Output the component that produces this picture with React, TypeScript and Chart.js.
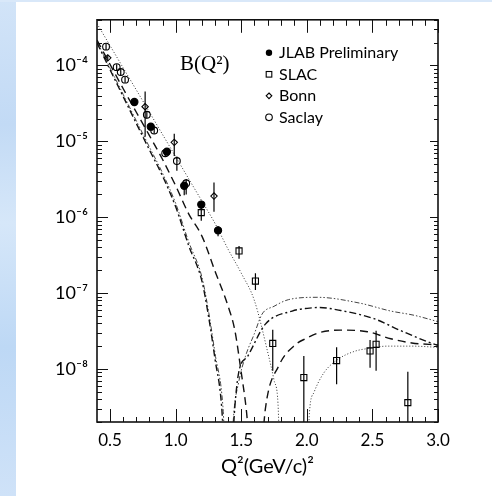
import { useEffect, useRef } from 'react';
import { Chart, registerables } from 'chart.js';

Chart.register(...registerables);

// Axis ticks
const xTickValues = [0.5, 1.0, 1.5, 2.0, 2.5, 3.0];
const yTickValues = [1e-8, 1e-7, 1e-6, 1e-5, 1e-4];
const yTickLabels = ['10⁻⁸', '10⁻⁷', '10⁻⁶', '10⁻⁵', '10⁻⁴'];

// JLAB preliminary
const jlabQ2 = [0.685, 0.81, 0.933, 1.065, 1.195, 1.323];
const jlabB = [3.3e-5, 1.56e-5, 7.3e-6, 2.6e-6, 1.47e-6, 6.7e-7];
const jlabLow = [3.05e-5, 1.44e-5, 6.6e-6, 1.95e-6, 1.3e-6, 5.6e-7];
const jlabHigh = [3.55e-5, 1.68e-5, 8.0e-6, 2.9e-6, 1.65e-6, 7.6e-7];

// SLAC
const slacQ2 = [1.195, 1.483, 1.608, 1.74, 1.977, 2.227, 2.482, 2.528, 2.77];
const slacB = [1.15e-6, 3.6e-7, 1.44e-7, 2.17e-8, 7.7e-9, 1.29e-8, 1.73e-8, 2.11e-8, 3.6e-9];
const slacLow = [9.0e-7, 2.83e-7, 1.1e-7, 9.5e-9, 1e-9, 6.3e-9, 1.04e-8, 9.5e-9, 1e-9];
const slacHigh = [1.41e-6, 4.19e-7, 1.83e-7, 3.3e-8, 1.48e-8, 1.93e-8, 2.4e-8, 3.2e-8, 9.2e-9];

// Bonn
const bonnQ2 = [0.482, 0.767, 0.989, 1.292];
const bonnB = [1.26e-4, 2.86e-5, 9.7e-6, 1.9e-6];
const bonnLow = [1.16e-4, 1.15e-5, 6.4e-6, 1.18e-6];
const bonnHigh = [1.37e-4, 4.54e-5, 1.26e-5, 2.87e-6];

// Saclay
const saclayQ2 = [0.469, 0.55, 0.581, 0.614, 0.78, 0.836, 0.92, 1.009, 1.08];
const saclayB = [1.77e-4, 9.5e-5, 8.2e-5, 6.5e-5, 2.24e-5, 1.39e-5, 6.97e-6, 5.5e-6, 2.8e-6];
const saclayLow = [1.6e-4, 8.7e-5, 7.5e-5, 5.9e-5, 2.0e-5, 1.27e-5, 6.3e-6, 4.1e-6, 2.0e-6];
const saclayHigh = [1.95e-4, 1.04e-4, 9.0e-5, 7.1e-5, 2.5e-5, 1.52e-5, 7.7e-6, 6.3e-6, 3.2e-6];

// Model curves (values below the axis mark the diffraction minimum)
const dottedQ2 = [0.4, 0.5, 0.6, 0.7, 0.8, 0.9, 1.0, 1.1, 1.2, 1.3, 1.4, 1.5, 1.6, 1.7, 1.75, 1.78, 1.81, 1.99, 2.02, 2.054, 2.13, 2.232, 2.36, 2.474, 2.615, 2.8, 3.0];
const dottedB = [3.57e-4, 1.82e-4, 9.27e-5, 4.75e-5, 2.42e-5, 1.23e-5, 6.27e-6, 3.19e-6, 1.63e-6, 8.28e-7, 3.77e-7, 1.83e-7, 7.98e-8, 1.71e-8, 7.1e-9, 3.5e-9, 1e-10, 1e-10, 2.7e-9, 4.9e-9, 8.9e-9, 1.32e-8, 1.7e-8, 1.87e-8, 2.0e-8, 2.0e-8, 1.93e-8];

const dashedQ2 = [0.4, 0.5, 0.6, 0.7, 0.8, 0.9, 1.0, 1.1, 1.2, 1.3, 1.4, 1.45, 1.5, 1.54, 1.61, 1.684, 1.786, 1.914, 2.0, 2.092, 2.258, 2.462, 2.64, 2.8, 3.0];
const dashedB = [2.16e-4, 1.03e-4, 4.93e-5, 2.42e-5, 1.19e-5, 5.77e-6, 2.59e-6, 1.1e-6, 5.64e-7, 1.94e-7, 6.69e-8, 3.29e-8, 8.93e-9, 2.73e-9, 1e-10, 3.0e-9, 1.1e-8, 2.1e-8, 2.55e-8, 3.0e-8, 3.25e-8, 3.1e-8, 2.5e-8, 2.2e-8, 2.08e-8];

const dashDotQ2 = [0.4, 0.5, 0.6, 0.7, 0.8, 0.9, 1.0, 1.1, 1.2, 1.25, 1.3, 1.35, 1.4, 1.45, 1.48, 1.55, 1.684, 1.888, 2.003, 2.092, 2.258, 2.512, 2.716, 2.946, 3.0];
const dashDotB = [1.98e-4, 8.75e-5, 3.88e-5, 1.72e-5, 7.7e-6, 3.48e-6, 1.37e-6, 4.19e-7, 1.44e-7, 5.0e-8, 1.35e-8, 3.26e-9, 1e-10, 3.0e-9, 8.9e-9, 1.48e-8, 3.9e-8, 5.8e-8, 6.3e-8, 6.45e-8, 5.9e-8, 4.6e-8, 3.2e-8, 2.2e-8, 2.05e-8];

const dashDotDotQ2 = [0.4, 0.5, 0.6, 0.7, 0.8, 0.9, 1.0, 1.1, 1.2, 1.25, 1.3, 1.36, 1.405, 1.44, 1.48, 1.532, 1.6, 1.659, 1.75, 1.86, 2.08, 2.4, 2.64, 2.818, 3.0];
const dashDotDotB = [2.05e-4, 9.2e-5, 4.15e-5, 1.86e-5, 8.4e-6, 3.8e-6, 1.52e-6, 4.7e-7, 1.62e-7, 5.8e-8, 1.6e-8, 3.2e-9, 1e-10, 2.2e-9, 6.65e-9, 1.47e-8, 2.92e-8, 5.3e-8, 6.7e-8, 8.2e-8, 8.8e-8, 7.4e-8, 5.8e-8, 5.1e-8, 4.2e-8];

const legendLabels = ['JLAB Preliminary', 'SLAC', 'Bonn', 'Saclay'];

const pts = (xs: number[], ys: number[]) => xs.map((x, i) => ({ x, y: ys[i] }));

const markerSet = (label: string, xs: number[], ys: number[], lo: number[], hi: number[], style: string, radius: number, filled: boolean) => ({
  label,
  data: pts(xs, ys),
  errLow: lo,
  errHigh: hi,
  showLine: false,
  pointStyle: style,
  pointRadius: radius,
  pointBorderWidth: 1.1,
  pointBorderColor: '#000',
  pointBackgroundColor: filled ? '#000' : 'rgba(255,255,255,0)',
  order: 0,
});

const curveSet = (label: string, xs: number[], ys: number[], color: string, width: number, dash: number[]) => ({
  label,
  data: pts(xs, ys),
  showLine: true,
  pointRadius: 0,
  borderColor: color,
  borderWidth: width,
  borderDash: dash,
  cubicInterpolationMode: 'monotone',
  order: 1,
});

// Vertical error bars drawn from each marker dataset's errLow / errHigh
const errorBars = {
  id: 'errorBars',
  afterDatasetsDraw(chart: any) {
    const { ctx, chartArea: a, scales } = chart;
    ctx.save();
    ctx.beginPath();
    ctx.rect(a.left, a.top, a.right - a.left, a.bottom - a.top);
    ctx.clip();
    ctx.strokeStyle = '#000';
    ctx.lineWidth = 1.2;
    chart.data.datasets.forEach((ds: any) => {
      if (!ds.errLow) return;
      ds.data.forEach((p: any, i: number) => {
        const px = scales.x.getPixelForValue(p.x);
        const y1 = scales.y.getPixelForValue(ds.errLow[i]);
        const y2 = scales.y.getPixelForValue(ds.errHigh[i]);
        ctx.beginPath();
        ctx.moveTo(px, y1);
        ctx.lineTo(px, y2);
        ctx.stroke();
      });
    });
    ctx.restore();
  },
};

// Box frame with inward tick marks on all four sides
const frameTicks = {
  id: 'frameTicks',
  afterDatasetsDraw(chart: any) {
    const { ctx, chartArea: a, scales } = chart;
    const xs = scales.x;
    const ys = scales.y;
    ctx.save();
    ctx.strokeStyle = '#111';
    ctx.lineWidth = 1;
    const seg = (x1: number, y1: number, x2: number, y2: number) => {
      ctx.beginPath();
      ctx.moveTo(x1, y1);
      ctx.lineTo(x2, y2);
      ctx.stroke();
    };
    for (let i = 5; i <= 30; i++) {
      const v = i / 10;
      if (v < xs.min || v > xs.max) continue;
      const px = Math.round(xs.getPixelForValue(v)) + 0.5;
      const major = i % 5 === 0;
      seg(px, a.bottom, px, a.bottom - (major ? 13 : 5));
      seg(px, a.top, px, a.top + (major ? 13 : 6));
    }
    for (let e = -9; e <= -4; e++) {
      for (let k = 1; k <= 9; k++) {
        const v = k * Math.pow(10, e);
        if (v < ys.min || v > ys.max) continue;
        const py = Math.round(ys.getPixelForValue(v)) + 0.5;
        const major = k === 1;
        seg(a.left, py, a.left + (major ? 11 : 5), py);
        seg(a.right, py, a.right - (major ? 8 : 4), py);
      }
    }
    ctx.lineWidth = 1.6;
    ctx.strokeRect(a.left, a.top, a.right - a.left, a.bottom - a.top);
    ctx.restore();
  },
};

// Key in the upper right of the plot and the B(Q²) caption
const keyAndCaption = {
  id: 'keyAndCaption',
  afterDraw(chart: any) {
    const { ctx, chartArea: a } = chart;
    ctx.save();
    ctx.fillStyle = '#000';
    ctx.strokeStyle = '#000';
    ctx.lineWidth = 1.1;
    ctx.textBaseline = 'middle';
    ctx.font = '21px "Liberation Serif", serif';
    ctx.fillText('B(Q²)', a.left + 83, a.top + 45);
    ctx.font = '16px Lato, sans-serif';
    const mx = a.left + 172;
    legendLabels.forEach((label, i) => {
      const y = a.top + 33 + i * 21.5;
      ctx.beginPath();
      if (i === 0) {
        ctx.arc(mx, y, 3.2, 0, Math.PI * 2);
        ctx.fill();
      } else if (i === 1) {
        ctx.strokeRect(mx - 2.8, y - 2.8, 5.6, 5.6);
      } else if (i === 2) {
        ctx.moveTo(mx, y - 2.8);
        ctx.lineTo(mx + 2.8, y);
        ctx.lineTo(mx, y + 2.8);
        ctx.lineTo(mx - 2.8, y);
        ctx.closePath();
        ctx.stroke();
      } else {
        ctx.arc(mx, y, 3.3, 0, Math.PI * 2);
        ctx.stroke();
      }
      ctx.fillText(label, mx + 10, y + 0.5);
    });
    ctx.restore();
  },
};

export default function App() {
  const canvasRef = useRef<HTMLCanvasElement | null>(null);

  useEffect(() => {
    const canvas = canvasRef.current;
    if (!canvas) return;
    const chart = new Chart(canvas, {
      type: 'scatter',
      data: {
        datasets: [
          markerSet('JLAB Preliminary', jlabQ2, jlabB, jlabLow, jlabHigh, 'circle', 3.6, true),
          markerSet('SLAC', slacQ2, slacB, slacLow, slacHigh, 'rect', 4.3, false),
          markerSet('Bonn', bonnQ2, bonnB, bonnLow, bonnHigh, 'rectRot', 3.2, false),
          markerSet('Saclay', saclayQ2, saclayB, saclayLow, saclayHigh, 'circle', 3.4, false),
          curveSet('dotted', dottedQ2, dottedB, '#333', 1, [1, 2]),
          curveSet('dashed', dashedQ2, dashedB, '#111', 1.4, [8, 5]),
          curveSet('dash-dot', dashDotQ2, dashDotB, '#111', 1.4, [7, 3, 2, 3]),
          curveSet('dash-dot-dot', dashDotDotQ2, dashDotDotB, '#444', 1, [5, 2, 1.5, 2, 1.5, 2]),
        ] as any,
      },
      options: {
        responsive: false,
        animation: false,
        devicePixelRatio: 1,
        events: [],
        layout: { padding: { top: 8, right: 54, left: 0, bottom: 0 } },
        plugins: {
          legend: { display: false },
          tooltip: { enabled: false },
        },
        scales: {
          x: {
            type: 'linear',
            min: 0.4,
            max: 3.0,
            bounds: 'data',
            grid: { display: false, drawTicks: false },
            border: { display: false },
            afterBuildTicks: (axis: any) => {
              axis.ticks = xTickValues.map((v) => ({ value: v }));
            },
            afterFit: (axis: any) => {
              axis.height = 74;
            },
            ticks: {
              autoSkip: false,
              maxRotation: 0,
              padding: 8,
              color: '#000',
              font: { family: 'Lato, sans-serif', size: 17 },
              callback: (v: any) => Number(v).toFixed(1),
            },
            title: {
              display: true,
              text: 'Q²(GeV/c)²',
              color: '#000',
              font: { family: 'Lato, sans-serif', size: 20 },
              padding: { top: 0, bottom: 17 },
            },
          },
          y: {
            type: 'logarithmic',
            min: 2e-9,
            max: 4e-4,
            bounds: 'data',
            grid: { display: false, drawTicks: false },
            border: { display: false },
            afterBuildTicks: (axis: any) => {
              axis.ticks = yTickValues.map((v) => ({ value: v }));
            },
            afterFit: (axis: any) => {
              axis.width = 97;
            },
            ticks: {
              autoSkip: false,
              padding: 9,
              color: '#000',
              font: { family: 'Lato, sans-serif', size: 18 },
              callback: (v: any) => {
                const i = yTickValues.findIndex((t) => Math.abs(Math.log10(t) - Math.log10(Number(v))) < 1e-6);
                return i >= 0 ? yTickLabels[i] : '';
              },
            },
          },
        },
      } as any,
      plugins: [errorBars, frameTicks, keyAndCaption],
    });
    return () => chart.destroy();
  }, []);

  return (
    <div style={{ position: 'fixed', left: 0, top: 0, width: 492, height: 496, background: '#fff', overflow: 'hidden' }}>
      <div
        style={{
          position: 'absolute',
          left: 0,
          top: 0,
          width: 16,
          height: 496,
          background: 'linear-gradient(180deg, #d2e4f8 0%, #c2daf5 25%, #d6e7f9 45%, #bdd8f5 70%, #cfe2f8 100%)',
        }}
      />
      <div style={{ position: 'absolute', left: 0, top: 0, width: 492, height: 2, background: '#d9e8f9' }} />
      <canvas ref={canvasRef} width={492} height={496} style={{ position: 'absolute', left: 0, top: 0 }} />
    </div>
  );
}
